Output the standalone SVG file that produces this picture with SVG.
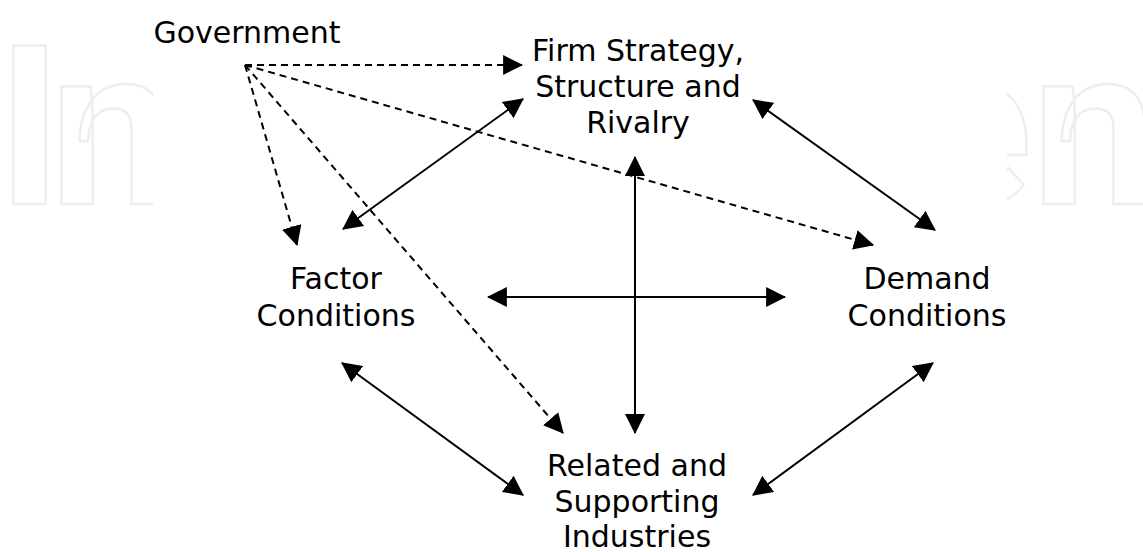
<svg xmlns="http://www.w3.org/2000/svg" width="1143" height="552" viewBox="0 0 1143 552">
<style>
.lbl{font-family:"DejaVu Sans","Liberation Sans",sans-serif;font-size:30px;fill:#000;text-anchor:middle}
.wm{font-family:Roboto,"Open Sans",sans-serif;font-weight:bold;font-size:222px;fill:#fff;stroke:#eeeeee;stroke-width:2.5}
.solid{stroke:#000;stroke-width:2;fill:none;marker-start:url(#ah);marker-end:url(#ah)}
.dash{stroke:#000;stroke-width:2;fill:none;stroke-dasharray:7 5;marker-end:url(#ah)}
</style>
<defs>
<marker id="ah" markerUnits="userSpaceOnUse" markerWidth="20" markerHeight="20" refX="17" refY="9" orient="auto-start-reverse" viewBox="0 0 18 18">
<path d="M0,0 L18,9 L0,18 Z" fill="#000"/>
</marker>
<clipPath id="wmclip">
<rect x="0" y="0" width="153" height="552"/>
<rect x="1007" y="0" width="136" height="552"/>
</clipPath>
</defs>
<rect width="1143" height="552" fill="#fff"/>
<g id="watermark" clip-path="url(#wmclip)">
<text class="wm" x="-3" y="204">I<tspan dx="-12">n</tspan></text>
<text class="wm" x="912" y="204">en</text>
</g>
<g id="connectors">
<line class="dash" x1="245" y1="65" x2="522" y2="65"/>
<line class="dash" x1="245" y1="65" x2="297" y2="245"/>
<line class="dash" x1="245" y1="65" x2="563" y2="433"/>
<line class="dash" x1="245" y1="65" x2="873" y2="245"/>
<line class="solid" x1="343" y1="229" x2="523" y2="99"/>
<line class="solid" x1="753" y1="100" x2="935" y2="230"/>
<line class="solid" x1="635" y1="157" x2="635" y2="433"/>
<line class="solid" x1="488" y1="297" x2="785" y2="297"/>
<line class="solid" x1="342" y1="363" x2="523" y2="495"/>
<line class="solid" x1="933" y1="363" x2="753" y2="495"/>
</g>
<g id="government"><text class="lbl" x="247" y="43">Government</text></g>
<g id="firm"><text class="lbl" x="638" y="61">Firm Strategy,</text><text class="lbl" x="638" y="97">Structure and</text><text class="lbl" x="638" y="133">Rivalry</text></g>
<g id="factor"><text class="lbl" x="336" y="289">Factor</text><text class="lbl" x="336" y="326">Conditions</text></g>
<g id="demand"><text class="lbl" x="927" y="289">Demand</text><text class="lbl" x="927" y="326">Conditions</text></g>
<g id="related"><text class="lbl" x="637" y="476">Related and</text><text class="lbl" x="637" y="512">Supporting</text><text class="lbl" x="637" y="547">Industries</text></g>
</svg>
